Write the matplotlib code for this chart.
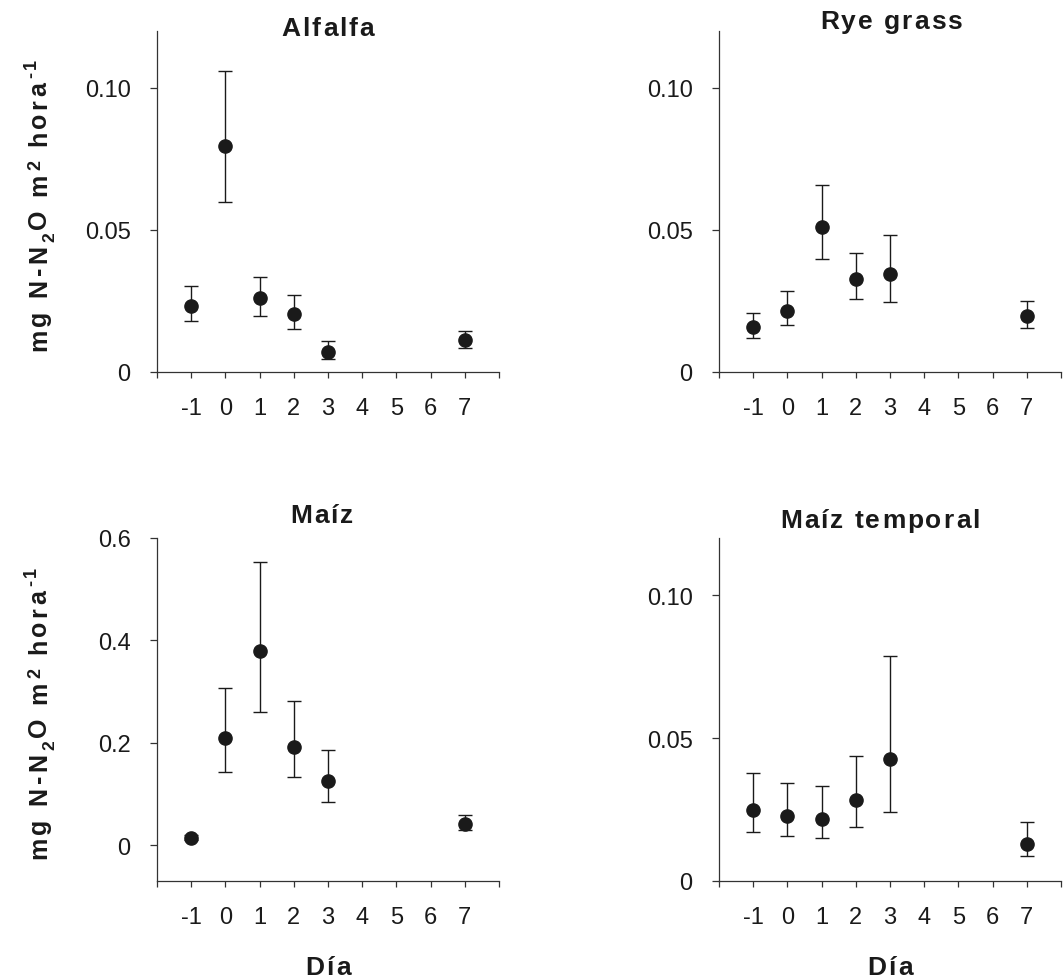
import matplotlib
matplotlib.use("Agg")
import matplotlib.pyplot as plt
import numpy as np
from matplotlib.font_manager import FontProperties

plt.rcParams['font.family'] = ['Liberation Sans', 'DejaVu Sans']

# Sampling days
days = [-1, 0, 1, 2, 3, 7]

# Alfalfa: mean flux with lower / upper error-bar limits
alfalfa_mean = [0.0233, 0.0797, 0.0259, 0.0204, 0.0070, 0.0113]
alfalfa_low = [0.0179, 0.0600, 0.0197, 0.0153, 0.0046, 0.0086]
alfalfa_high = [0.0303, 0.1060, 0.0336, 0.0270, 0.0109, 0.0144]

# Rye grass
rye_mean = [0.0158, 0.0216, 0.0510, 0.0329, 0.0345, 0.0198]
rye_low = [0.0121, 0.0165, 0.0397, 0.0258, 0.0246, 0.0156]
rye_high = [0.0207, 0.0284, 0.0657, 0.0418, 0.0483, 0.0250]

# Maíz
maiz_mean = [0.0144, 0.2096, 0.3787, 0.1926, 0.1247, 0.0405]
maiz_low = [0.0100, 0.1437, 0.2599, 0.1326, 0.0836, 0.0287]
maiz_high = [0.0190, 0.3075, 0.5537, 0.2808, 0.1854, 0.0588]

# Maíz temporal
temporal_mean = [0.0249, 0.0229, 0.0218, 0.0284, 0.0427, 0.0128]
temporal_low = [0.0170, 0.0156, 0.0151, 0.0190, 0.0242, 0.0089]
temporal_high = [0.0379, 0.0343, 0.0334, 0.0439, 0.0788, 0.0208]

x_ticks = [-2, -1, 0, 1, 2, 3, 4, 5, 6, 7, 8]
x_ticklabels = ['', '-1', '0', '1', '2', '3', '4', '5', '6', '7', '']

W, H, DPI = 1064, 978, 100
fig = plt.figure(figsize=(W / DPI, H / DPI), dpi=DPI)
renderer = fig.canvas.get_renderer()

ink = '#1a1a1a'


def advance(ch, size):
    """Horizontal advance of one bold glyph, in pixels."""
    prop = FontProperties(family='Liberation Sans', weight='bold', size=size)
    w_with, _, _ = renderer.get_text_width_height_descent('H' + ch + 'H', prop, ismath=False)
    w_without, _, _ = renderer.get_text_width_height_descent('HH', prop, ismath=False)
    return w_with - w_without


def spaced_text(segments, x, y, tracking, vertical=False):
    """Draw bold text character by character with extra letter spacing.

    segments: list of (string, size_pt, baseline_shift_px).
    x, y: pixel position (from the top-left) of the centre of the run's
    baseline; vertical text reads bottom-to-top.
    """
    chars = [(c, s, sh) for txt, s, sh in segments for c in txt]
    advs = [advance(c, s) for c, s, _ in chars]
    total = sum(advs) + tracking * (len(chars) - 1)
    pos = -total / 2
    for (c, s, sh), a in zip(chars, advs):
        if vertical:
            px, py, rot = x - sh, y - pos, 90
        else:
            px, py, rot = x + pos, y - sh, 0
        if c != ' ':
            fig.text(px / W, 1 - py / H, c, fontsize=s, fontweight='bold',
                     color=ink, rotation=rot, rotation_mode='anchor',
                     ha='left', va='baseline')
        pos += a + tracking


def make_axes(left, top, right, bottom):
    return fig.add_axes([left / W, 1 - bottom / H, (right - left) / W, (bottom - top) / H])


def panel(ax, mean, low, high, ylim, yticks, yticklabels):
    mean = np.array(mean)
    err = [mean - np.array(low), np.array(high) - mean]
    ax.errorbar(days, mean, yerr=err, fmt='o', ms=9.5, color=ink, ecolor=ink,
                elinewidth=1.0, capsize=5, capthick=1.0, zorder=3)
    ax.set_xlim(-2, 8)
    ax.set_ylim(*ylim)
    ax.set_xticks(x_ticks)
    ax.set_xticklabels(x_ticklabels)
    ax.set_yticks(yticks)
    ax.set_yticklabels(yticklabels)
    for side in ('top', 'right'):
        ax.spines[side].set_visible(False)
    for side in ('left', 'bottom'):
        ax.spines[side].set_linewidth(0.9)
        ax.spines[side].set_color('#333333')
    ax.tick_params(axis='x', direction='out', length=4, width=0.9, pad=14,
                   labelsize=17, colors='#333333', labelcolor=ink)
    ax.tick_params(axis='y', direction='out', length=5, width=0.9, pad=14,
                   labelsize=17, colors='#333333', labelcolor=ink)


ax1 = make_axes(157, 32, 499, 373)
ax2 = make_axes(719, 32, 1061, 373)
ax3 = make_axes(157, 539, 499, 882)
ax4 = make_axes(719, 539, 1061, 882)

small_ticks = [0, 0.05, 0.10]
small_labels = ['0', '0.05', '0.10']

panel(ax1, alfalfa_mean, alfalfa_low, alfalfa_high,
      (0, 0.12), small_ticks, small_labels)
panel(ax2, rye_mean, rye_low, rye_high,
      (0, 0.12), small_ticks, small_labels)
panel(ax3, maiz_mean, maiz_low, maiz_high,
      (-0.07, 0.6), [0, 0.2, 0.4, 0.6], ['0', '0.2', '0.4', '0.6'])
panel(ax4, temporal_mean, temporal_low, temporal_high,
      (0, 0.12), small_ticks, small_labels)

# Panel titles (centre x, baseline y in pixels)
titles = [('Alfalfa', 328, 36), ('Rye grass', 891, 29),
          ('Maíz', 322, 523), ('Maíz temporal', 880, 528)]
for text, cx, by in titles:
    spaced_text([(text, 19, 0)], cx, by, tracking=2.0)

# y labels on the left column: N₂O subscript, m² and hora⁻¹ superscripts
ylabel_segments = [('mg N-N', 18, 0), ('2', 12.5, -8), ('O m', 18, 0),
                   ('2', 13, 6), (' hora', 18, 0), ('-1', 13, 10)]
for mid in (205, 713):
    spaced_text(ylabel_segments, 46, mid, tracking=3.4, vertical=True)

# x labels on the bottom row
for cx in (328, 890):
    spaced_text([('Día', 19, 0)], cx, 975, tracking=2.0)

fig.savefig('out.png', dpi=DPI, facecolor='white')
